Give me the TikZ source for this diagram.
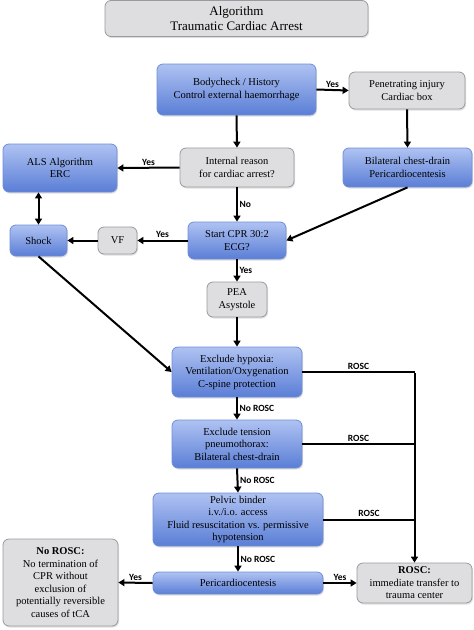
\documentclass[tikz,border=0pt]{standalone}
\usepackage{fontspec}
\setmainfont{Liberation Serif}
\newfontfamily\lblfont{Carlito}
\usetikzlibrary{arrows.meta,shadows,calc}
\definecolor{bluetop}{HTML}{AFC2F2}
\definecolor{bluebot}{HTML}{5A7ED6}
\definecolor{blueline}{HTML}{6F8ED6}
\definecolor{grayfill}{HTML}{DEDEE0}
\definecolor{grayline}{HTML}{9A9A9E}
\tikzset{
  basebox/.style={rectangle, rounded corners=6pt, inner sep=1pt, align=center,
    font=\fontsize{10.5}{12.5}\selectfont, line width=0.8pt,
    drop shadow={opacity=0.25, shadow xshift=1pt, shadow yshift=-1.5pt}},
  bluebox/.style={basebox, draw=blueline, top color=bluetop, bottom color=bluebot},
  graybox/.style={basebox, draw=grayline, fill=grayfill},
  conn/.style={line width=2pt, -{Triangle[length=6pt,width=7pt]}},
  plainline/.style={line width=2pt},
  lbl/.style={font=\lblfont\bfseries\fontsize{9.5}{11}\selectfont, inner sep=1.5pt}
}
\begin{document}
\begin{tikzpicture}[x=1pt,y=-1pt]
\useasboundingbox (0,0) rectangle (474,630);

\node[graybox, minimum width=263pt, minimum height=36pt, font=\fontsize{13}{15}\selectfont] (title) at (236.5,18.5) {Algorithm\\Traumatic Cardiac Arrest};

\node[bluebox, minimum width=159pt, minimum height=51pt] (body) at (236.5,89.5) {Bodycheck / History\\Control external haemorrhage};
\node[graybox, minimum width=116pt, minimum height=37pt] (pen) at (407,90.5) {Penetrating injury\\Cardiac box};
\node[graybox, minimum width=114pt, minimum height=39pt] (int) at (237,167.5) {Internal reason\\for cardiac arrest?};
\node[bluebox, minimum width=114pt, minimum height=48pt] (als) at (60,168) {ALS Algorithm\\ERC};
\node[bluebox, minimum width=129pt, minimum height=39pt] (bil) at (407.5,167.5) {Bilateral chest-drain\\Pericardiocentesis};
\node[bluebox, minimum width=98pt, minimum height=37pt] (cpr) at (237,240.5) {Start CPR 30:2\\ECG?};
\node[bluebox, minimum width=57pt, minimum height=31pt] (shock) at (38.5,240.5) {Shock};
\node[graybox, minimum width=39pt, minimum height=27pt] (vf) at (117.5,240.5) {VF};
\node[graybox, minimum width=60pt, minimum height=35pt] (pea) at (237,299.5) {PEA\\Asystole};
\node[bluebox, minimum width=130pt, minimum height=50pt] (hyp) at (237,372) {Exclude hypoxia:\\Ventilation/Oxygenation\\C-spine protection};
\node[bluebox, minimum width=130pt, minimum height=48pt] (ten) at (237,444) {Exclude tension\\pneumothorax:\\Bilateral chest-drain};
\node[bluebox, minimum width=170pt, minimum height=53pt] (pel) at (238,519.5) {Pelvic binder\\i.v./i.o. access\\Fluid resuscitation vs. permissive\\hypotension};
\node[bluebox, minimum width=170pt, minimum height=22pt] (peri) at (238,583) {Pericardiocentesis};
\node[graybox, minimum width=115pt, minimum height=40pt] (rosc) at (414.5,583) {\textbf{ROSC:}\\immediate transfer to\\trauma center};
\node[graybox, minimum width=115pt, minimum height=87pt] (noro) at (60.5,582.5) {\textbf{No ROSC:}\\No termination of\\CPR without\\exclusion of\\potentially reversible\\causes of tCA};

% connectors
\draw[conn] (body.east) -- node[lbl, above] {Yes} (pen.west);
\draw[conn] (body.south) -- (int.north);
\draw[conn] (int.west) -- node[lbl, above] {Yes} (als.east);
\draw[conn] (pen.south) -- (bil.north);
\draw[conn] (int.south) -- node[lbl, right] {No} (cpr.north);
\draw[conn] (bil.south) -- (cpr.east);
\draw[line width=2pt, {Triangle[length=6pt,width=7pt]}-{Triangle[length=6pt,width=7pt]}] (shock.north |- als.south) -- (shock.north);
\draw[conn] (cpr.west) -- node[lbl, above] {Yes} (vf.east);
\draw[conn] (vf.west) -- (shock.east);
\draw[conn] (cpr.south) -- node[lbl, right] {Yes} (pea.north);
\draw[conn] (shock.south) -- (hyp.west);
\draw[conn] (pea.south) -- (hyp.north);
\draw[conn] (hyp.south) -- node[lbl, right] {No ROSC} (ten.north);
\draw[conn] (ten.south) -- node[lbl, right] {No ROSC} (pel.north);
\draw[conn] (pel.south) -- node[lbl, right] {No ROSC} (peri.north);

\coordinate (j1) at (rosc.north |- hyp.east);
\coordinate (j2) at (rosc.north |- ten.east);
\coordinate (j3) at (rosc.north |- pel.east);
\draw[plainline] (hyp.east) -- node[lbl, above] {ROSC} (j1);
\draw[plainline] (ten.east) -- node[lbl, above] {ROSC} (j2);
\draw[plainline] (pel.east) -- node[lbl, above] {ROSC} (j3);
\draw[conn] ($(j1)+(0,-1pt)$) -- (rosc.north);

\draw[conn] (peri.west) -- node[lbl, above] {Yes} (noro.east);
\draw[conn] (peri.east) -- node[lbl, above] {Yes} (rosc.west);
\end{tikzpicture}
\end{document}
